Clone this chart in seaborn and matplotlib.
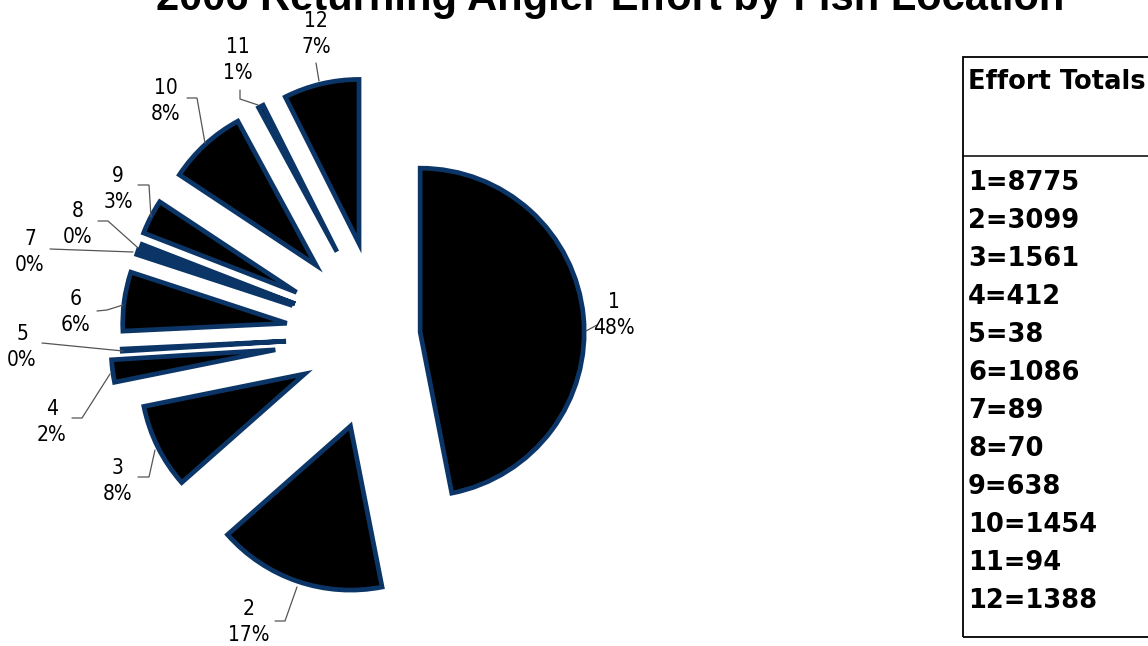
import matplotlib
matplotlib.use("Agg")
import matplotlib.pyplot as plt
from matplotlib import font_manager
from matplotlib.patches import Rectangle
import seaborn as sns

# ---- data -------------------------------------------------------------
locations = ["1", "2", "3", "4", "5", "6", "7", "8", "9", "10", "11", "12"]
effort = [8775, 3099, 1561, 412, 38, 1086, 89, 70, 638, 1454, 94, 1388]
pct_labels = ["48%", "17%", "8%", "2%", "0%", "6%", "0%", "0%", "3%", "8%", "1%", "7%"]
title = "2006 Returning Angler Effort by Fish Location"
table_title = "Effort Totals"

# ---- styling ----------------------------------------------------------
sns.set_theme(style="white")
W, H = 1148, 646
edge_col = "#0b3566"
leader_col = "#555555"

names = {f.name for f in font_manager.fontManager.ttflist}
if "Liberation Sans Narrow" in names:
    label_font = dict(family=["Liberation Sans Narrow", "DejaVu Sans"])
else:
    label_font = dict(family=["DejaVu Sans"], stretch="condensed")

radius = 164
# explode distance of each slice (fraction of radius)
explode_frac = [0.24, 0.58, 0.52, 0.65, 0.58, 0.58, 0.57, 0.56, 0.58, 0.585, 0.58, 0.58]

fig = plt.figure(figsize=(W / 100, H / 100), dpi=100)
ax = fig.add_axes([0, 0, 1, 1])


def py(y):
    """top-down pixel row -> axis y coordinate"""
    return H - y


# matplotlib offsets exploded wedges in data units, so scale by the radius
ax.pie(
    effort,
    explode=[f * radius for f in explode_frac],
    startangle=90,
    counterclock=False,
    center=(381, py(336)),
    radius=radius,
    colors=["black"] * len(effort),
    wedgeprops=dict(edgecolor=edge_col, linewidth=3.4, joinstyle="miter"),
)
ax.set_xlim(0, W)
ax.set_ylim(0, H)
ax.set_aspect("equal")
ax.axis("off")

# ---- slice labels with leader lines ------------------------------------
label_xy = [(614, 315), (249, 622), (118, 481), (52, 422), (22, 347), (76, 312),
            (30, 252), (78, 224), (118, 189), (166, 101), (238, 60), (316, 34)]
leaders = [
    [(586, 331), (597, 325)],
    [(275, 621), (285, 621), (297, 587)],
    [(138, 477), (149, 477), (155, 450)],
    [(72, 418), (82, 418), (110, 374)],
    [(42, 343), (123, 351)],
    [(97, 311), (107, 310), (123, 305)],
    [(50, 249), (133, 252)],
    [(98, 221), (108, 221), (137, 247)],
    [(138, 185), (149, 185), (151, 217)],
    [(187, 98), (197, 98), (205, 143)],
    [(240, 90), (240, 99), (258, 105)],
    [(316, 63), (319, 81)],
]
for loc, pct, (x, y), pts in zip(locations, pct_labels, label_xy, leaders):
    ax.text(x, py(y), f"{loc}\n{pct}", ha="center", va="center",
            fontsize=15, linespacing=1.35, color="black", **label_font)
    ax.plot([p[0] for p in pts], [py(p[1]) for p in pts],
            color=leader_col, lw=0.9, solid_joinstyle="miter")

# ---- title ------------------------------------------------------------
ax.text(610, py(10), title, ha="center", va="baseline", fontsize=30,
        fontweight="bold", family=["Liberation Sans", "DejaVu Sans"], color="black")

# ---- totals box -------------------------------------------------------
box_left, box_top, box_bottom, sep_y = 963, 57, 637, 156
ax.add_patch(Rectangle((box_left, py(box_bottom)), W - box_left + 20,
                       box_bottom - box_top, fill=False, edgecolor="black",
                       linewidth=1.3, clip_on=True))
ax.plot([box_left, W + 5], [py(sep_y), py(sep_y)], color="black", lw=1.1)
ax.text(968, py(82), table_title, ha="left", va="center", fontsize=18.5,
        fontweight="bold", family="DejaVu Sans", color="black")
for i, (loc, val) in enumerate(zip(locations, effort)):
    ax.text(968, py(183 + 38 * i), f"{loc}={val}", ha="left", va="center",
            fontsize=18.5, fontweight="bold", family="DejaVu Sans", color="black")

fig.savefig("out.png", dpi=100, facecolor="white")
